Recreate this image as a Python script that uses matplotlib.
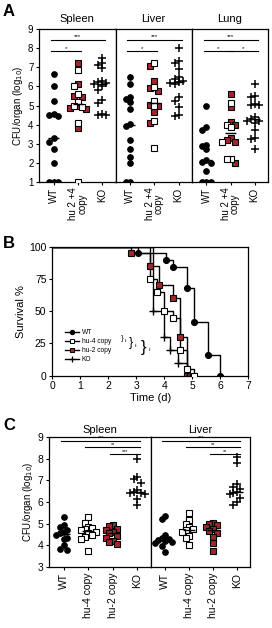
import matplotlib
matplotlib.use("Agg")
import matplotlib.pyplot as plt
from matplotlib.lines import Line2D
import numpy as np

plt.rcParams['font.family'] = ['Liberation Sans', 'DejaVu Sans']
plt.rcParams['axes.linewidth'] = 0.9
plt.rcParams['xtick.major.width'] = 0.8
plt.rcParams['ytick.major.width'] = 0.8
plt.rcParams['xtick.major.size'] = 2.5
plt.rcParams['ytick.major.size'] = 2.5

W, H = 272, 628
RED = '#a3262c'

# ---------------- panel A: log10 CFU/organ ----------------
organs_a = ['Spleen', 'Liver', 'Lung']
groups_a = ['WT', 'hu 2 +4\ncopy', 'KO']

spleen_wt = [6.65, 6.0, 5.25, 4.5, 4.55, 4.45, 3.3, 3.1, 2.7, 2.0, 1.0, 1.0, 1.0]
spleen_hu_red = [7.2, 6.1, 5.5, 5.45, 4.95, 4.85, 4.8, 3.8]
spleen_hu_white = [6.85, 6.0, 5.6, 5.2, 5.0, 4.9, 4.1, 1.0]
spleen_ko = [7.5, 7.2, 7.1, 6.95, 6.3, 6.25, 6.2, 6.1, 6.0, 5.8, 5.3, 5.15, 4.55, 4.5, 4.5]

liver_wt = [6.5, 6.1, 5.45, 5.35, 5.2, 4.8, 4.05, 3.95, 3.2, 2.7, 2.3, 2.0, 1.0, 1.0]
liver_hu_red = [7.05, 6.3, 5.9, 5.75, 5.05, 4.95, 4.65, 4.1]
liver_hu_white = [7.2, 5.95, 5.25, 5.0, 4.2, 2.8]
liver_ko = [8.0, 7.35, 7.2, 6.9, 6.5, 6.4, 6.3, 6.25, 6.2, 6.15, 5.45, 5.25, 4.9, 4.5, 4.45]

lung_wt = [4.95, 3.9, 3.7, 2.95, 2.9, 2.7, 2.15, 2.05, 2.0, 1.6, 1.0, 1.0, 1.0]
lung_hu_red = [5.6, 4.9, 4.15, 4.0, 3.3, 3.2, 3.1, 2.0]
lung_hu_white = [5.15, 4.0, 3.85, 3.1, 2.2, 2.2]
lung_ko = [6.1, 5.5, 5.45, 5.1, 5.05, 5.05, 4.4, 4.3, 4.2, 4.2, 4.1, 3.7, 3.3, 3.25, 2.7]

sig_a = {
    'Spleen': [(0, 2, 8.45, '***'), (0, 1, 7.85, '*')],
    'Liver': [(0, 2, 8.45, '***'), (0, 1, 7.85, '*')],
    'Lung': [(0, 2, 8.45, '***'), (0, 1, 7.85, '*'), (1, 2, 7.85, '*')],
}

# ---------------- panel B: survival ----------------
surv_names = ['WT', 'hu-4 copy', 'hu-2 copy', 'KO']
wt_days = [3.05, 4.05, 4.3, 4.8, 5.05, 5.55, 6.0]
wt_surv = [95, 90, 84, 68, 42, 16, 0]
hu4_days = [3.5, 3.75, 4.0, 4.3, 4.55, 4.8, 5.05]
hu4_surv = [75, 65, 50, 45, 20, 5, 0]
hu2_days = [2.8, 3.5, 3.8, 4.3, 4.55, 4.8]
hu2_surv = [95, 85, 70, 60, 30, 0]
ko_days = [3.6, 4.0, 4.2, 4.5, 4.8]
ko_surv = [50, 30, 20, 10, 0]

# ---------------- panel C: log10 CFU/organ ----------------
organs_c = ['Spleen', 'Liver']
groups_c = ['WT', 'hu-4 copy', 'hu-2 copy', 'KO']
c_spleen_wt = [5.3, 4.95, 4.85, 4.7, 4.6, 4.55, 4.5, 4.35, 4.3, 4.0, 3.85, 3.8]
c_spleen_hu4 = [5.3, 5.05, 4.85, 4.8, 4.75, 4.7, 4.6, 4.55, 4.5, 4.4, 4.3, 3.75]
c_spleen_hu2 = [4.95, 4.9, 4.75, 4.7, 4.6, 4.55, 4.45, 4.35, 4.2, 4.15, 4.05]
c_spleen_ko = [8.0, 7.15, 7.05, 6.9, 6.55, 6.45, 6.4, 6.4, 6.35, 6.15, 5.85]
c_liver_wt = [5.35, 5.2, 4.5, 4.35, 4.3, 4.25, 4.2, 4.15, 4.1, 3.95, 3.7]
c_liver_hu4 = [5.5, 5.15, 5.0, 4.85, 4.75, 4.7, 4.6, 4.45, 4.35, 4.0]
c_liver_hu2 = [5.05, 5.0, 4.95, 4.85, 4.75, 4.65, 4.55, 4.4, 4.1, 3.75]
c_liver_ko = [8.1, 7.8, 6.85, 6.7, 6.6, 6.45, 6.4, 6.35, 6.2, 6.0, 5.85]
sig_c = {
    'Spleen': [(0, 3, 8.83, '***'), (1, 3, 8.52, '**'), (2, 3, 8.21, '***')],
    'Liver': [(0, 3, 8.83, '***'), (1, 3, 8.52, '**'), (2, 3, 8.21, '**')],
}


def px_axes(fig, left, top, right, bottom):
    return fig.add_axes([left / W, 1 - bottom / H, (right - left) / W, (bottom - top) / H])


def swarm(values, dx, dy):
    """simple beeswarm: push overlapping points sideways"""
    values = np.asarray(values, dtype=float)
    offsets = np.zeros(len(values))
    placed = []
    cands = [0.0]
    for k in range(1, 10):
        cands += [-k * dx, k * dx]
    for i in np.argsort(-values):
        for c in cands:
            if all(abs(py - values[i]) >= dy or abs(px - c) >= dx * 0.95 for px, py in placed):
                break
        offsets[i] = c
        placed.append((c, values[i]))
    return offsets


def dot_column(ax, x, parts, dx, dy, ms, mlen):
    # parts: list of (values, marker, facecolor)
    vals = np.concatenate([p[0] for p in parts])
    offs = swarm(vals, dx, dy)
    i = 0
    for v, m, fc in parts:
        n = len(v)
        o = offs[i:i + n]
        i += n
        if m == '+':
            ax.plot(x + o, v, ls='none', marker='+', ms=ms + 1.5, mew=1.1, color='k', zorder=3)
        else:
            ax.plot(x + o, v, ls='none', marker=m, ms=ms, mfc=fc, mec='k', mew=0.8, zorder=3)
    ax.hlines(np.median(vals), x - mlen, x + mlen, color='k', lw=1.0, zorder=4)


def sig_bar(ax, x1, x2, y, txt, fs):
    ax.plot([x1 - 0.12, x2 + 0.12], [y, y], color='k', lw=0.8)
    ax.text((x1 + x2) / 2, y + 0.02, txt, ha='center', va='bottom', fontsize=fs)


fig = plt.figure(figsize=(W / 100, H / 100), dpi=100)

# ---------------- A ----------------
a_data = {
    'Spleen': (spleen_wt, spleen_hu_red, spleen_hu_white, spleen_ko),
    'Liver': (liver_wt, liver_hu_red, liver_hu_white, liver_ko),
    'Lung': (lung_wt, lung_hu_red, lung_hu_white, lung_ko),
}
a_edges = [39, 115.5, 192, 268]
for k, organ in enumerate(organs_a):
    ax = px_axes(fig, a_edges[k], 29, a_edges[k + 1], 182)
    wt, hr, hw, ko = a_data[organ]
    dot_column(ax, 0, [(wt, 'o', 'k')], 0.17, 0.23, 4.0, 0.22)
    dot_column(ax, 1, [(hr, 's', RED), (hw, 's', 'white')], 0.17, 0.23, 4.0, 0.22)
    dot_column(ax, 2, [(ko, '+', 'k')], 0.17, 0.23, 4.0, 0.22)
    for x1, x2, y, t in sig_a[organ]:
        sig_bar(ax, x1, x2, y, t, 4.5)
    ax.set_xlim(-0.6, 2.55)
    ax.set_ylim(1, 9)
    ax.set_xticks(range(3))
    ax.set_xticklabels(groups_a, rotation=90, fontsize=7, linespacing=0.85)
    ax.set_title(organ, fontsize=8, pad=5)
    if k == 0:
        ax.set_yticks(range(1, 10))
        ax.tick_params(axis='y', labelsize=7, pad=1.5)
        ax.set_ylabel('CFU/organ (log$_{10}$)', fontsize=7, labelpad=2)
    else:
        ax.set_yticks([])
    ax.tick_params(axis='x', pad=1.5)

# ---------------- B ----------------
axb = px_axes(fig, 52, 246.7, 248.3, 375.7)
surv_data = [
    (wt_days, wt_surv, 'o', 'k'),
    (hu4_days, hu4_surv, 's', 'white'),
    (hu2_days, hu2_surv, 's', RED),
    (ko_days, ko_surv, '+', 'k'),
]
handles = []
for (d, s, m, fc), name in zip(surv_data, surv_names):
    t = [0] + d
    y = [100] + s
    axb.step(t, y, where='post', color='k', lw=1.0, zorder=2)
    if m == '+':
        axb.plot(d, s, ls='none', marker='+', ms=5.5, mew=1.0, color='k', zorder=3)
        h = Line2D([], [], color='k', lw=1.0, marker='+', ms=4, mew=0.9)
    else:
        axb.plot(d, s, ls='none', marker=m, ms=4.3, mfc=fc, mec='k', mew=0.8, zorder=3)
        h = Line2D([], [], color='k', lw=1.0, marker=m, ms=3.2, mfc=fc, mec='k', mew=0.7)
    handles.append(h)
axb.legend(handles, surv_names, loc='lower left', bbox_to_anchor=(0.04, 0.06),
           fontsize=4.8, frameon=False, handlelength=2.2, handletextpad=0.4,
           labelspacing=0.3, borderpad=0.2)
# comparison braces next to legend (WT vs hu-4, WT vs hu-2, WT vs KO)
brace_specs = [(0.35, 0.29, 6), (0.39, 0.25, 9), (0.45, 0.215, 12)]
for bx, by, fs in brace_specs:
    axb.text(bx, by, '}', transform=axb.transAxes, fontsize=fs, va='center', ha='left')
    axb.text(bx + fs * 0.0036 + 0.004, by, '***', transform=axb.transAxes, fontsize=2.8,
             va='center', ha='left', rotation=90)
axb.set_xlim(0, 7)
axb.set_ylim(0, 100)
axb.set_xticks(range(8))
axb.set_yticks([0, 25, 50, 75, 100])
axb.tick_params(labelsize=7.5, pad=1.5)
axb.set_xlabel('Time (d)', fontsize=8, labelpad=1)
axb.set_ylabel('Survival %', fontsize=8, labelpad=2)

# ---------------- C ----------------
c_data = {
    'Spleen': (c_spleen_wt, c_spleen_hu4, c_spleen_hu2, c_spleen_ko),
    'Liver': (c_liver_wt, c_liver_hu4, c_liver_hu2, c_liver_ko),
}
c_edges = [49, 151, 250]
c_style = [('o', 'k'), ('s', 'white'), ('s', RED), ('+', 'k')]
for k, organ in enumerate(organs_c):
    ax = px_axes(fig, c_edges[k], 437, c_edges[k + 1], 567)
    for j, vals in enumerate(c_data[organ]):
        m, fc = c_style[j]
        dot_column(ax, j, [(vals, m, fc)], 0.15, 0.28, 4.0, 0.25)
    for x1, x2, y, t in sig_c[organ]:
        sig_bar(ax, x1, x2, y, t, 4)
    ax.set_xlim(-0.6, 3.55)
    ax.set_ylim(3, 9)
    ax.set_xticks(range(4))
    ax.set_xticklabels(groups_c, rotation=90, fontsize=7.5)
    ax.set_title(organ, fontsize=8, pad=3)
    if k == 0:
        ax.set_yticks(range(3, 10))
        ax.tick_params(axis='y', labelsize=7.5, pad=1.5)
        ax.set_ylabel('CFU/organ (log$_{10}$)', fontsize=7, labelpad=2)
    else:
        ax.set_yticks([])
    ax.tick_params(axis='x', pad=1.5)

# panel letters
for letter, ypx in [('A', 11), ('B', 243), ('C', 426)]:
    fig.text(3 / W, 1 - ypx / H, letter, fontsize=12, fontweight='bold', va='center', ha='left')

fig.savefig('out.png', dpi=100)
